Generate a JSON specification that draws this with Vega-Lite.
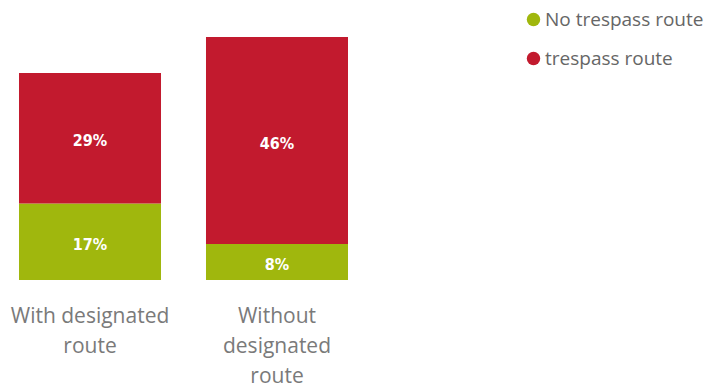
{
  "$schema": "https://vega.github.io/schema/vega-lite/v6.json",
  "autosize": "none",
  "width": 367,
  "height": 243,
  "padding": {"left": 0, "top": 37, "right": 343, "bottom": 107},
  "background": "white",
  "config": {"view": {"stroke": null}, "font": "Open Sans"},
  "data": {
    "values": [
      {"group": "With designated route", "category": "No trespass route", "ord": 1, "value": 17, "label": "17%"},
      {"group": "With designated route", "category": "trespass route", "ord": 2, "value": 29, "label": "29%"},
      {"group": "Without designated route", "category": "No trespass route", "ord": 1, "value": 8, "label": "8%"},
      {"group": "Without designated route", "category": "trespass route", "ord": 2, "value": 46, "label": "46%"}
    ]
  },
  "encoding": {
    "x": {
      "field": "group",
      "type": "nominal",
      "sort": null,
      "scale": {"paddingInner": 0.2406, "paddingOuter": 0.1016},
      "axis": {
        "title": null,
        "domain": false,
        "ticks": false,
        "labelAngle": 0,
        "labelFont": "Open Sans",
        "labelFontSize": 21,
        "labelColor": "#7a7a7a",
        "labelPadding": 25,
        "labelLineHeight": 30,
        "labelBaseline": "top",
        "labelExpr": "datum.label == 'With designated route' ? ['With designated', 'route'] : ['Without', 'designated', 'route']"
      }
    }
  },
  "layer": [
    {
      "mark": {"type": "bar"},
      "encoding": {
        "y": {"field": "value", "type": "quantitative", "stack": "zero", "scale": {"domain": [0, 54], "nice": false}, "axis": null},
        "color": {
          "field": "category",
          "type": "nominal",
          "scale": {"domain": ["No trespass route", "trespass route"], "range": ["#A0B70D", "#C21A2E"]},
          "legend": {
            "title": null,
            "orient": "none",
            "legendX": 524,
            "legendY": -27,
            "symbolType": "circle",
            "symbolSize": 180,
            "symbolStrokeWidth": 0,
            "labelFont": "Open Sans",
            "labelFontSize": 19,
            "labelColor": "#666666",
            "rowPadding": 19,
            "labelOffset": 2
          }
        },
        "order": {"field": "ord", "type": "quantitative"}
      }
    },
    {
      "mark": {"type": "text", "color": "white", "fontWeight": "bold", "fontSize": 16, "font": "DejaVu Sans Condensed", "baseline": "middle", "dy": 3},
      "encoding": {
        "y": {"field": "value", "type": "quantitative", "stack": "zero", "bandPosition": 0.5},
        "detail": {"field": "category"},
        "order": {"field": "ord", "type": "quantitative"},
        "text": {"field": "label"}
      }
    }
  ]
}
